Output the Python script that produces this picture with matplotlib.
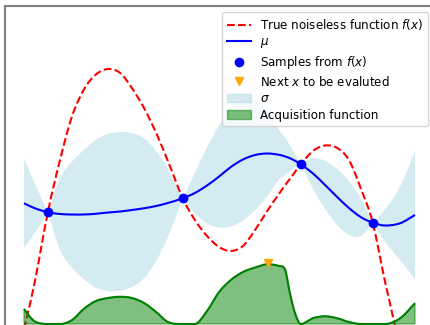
import matplotlib
matplotlib.use('Agg')
import matplotlib.pyplot as plt
import matplotlib.patches as mpatches
from matplotlib.lines import Line2D
from matplotlib.path import Path
import numpy as np

# shared x grid (includes the sample locations)
x = [0.0, 0.26, 0.61, 0.92, 1.23, 1.54, 1.84, 2.15, 2.46, 2.76, 3.07, 3.38, 3.68,
     4.06, 4.37, 4.68, 4.99, 5.29, 5.60, 5.91, 6.22, 6.52, 6.68, 6.80, 6.93, 7.08,
     7.39, 7.70, 8.01, 8.31, 8.62, 8.92, 9.23, 9.62, 10.0]

true_f = [-0.2, 1.56, 4.47, 6.56, 8.32, 9.4, 9.98, 10.2, 10.04, 9.44, 8.64, 7.64, 6.52,
          5.03, 4.16, 3.52, 3.08, 2.92, 3.12, 3.76, 4.52, 5.2, 5.56, 5.8, 6.08, 6.39,
          6.92, 7.14, 7.04, 6.56, 5.4, 4.05, 1.72, -0.95, -3.6]

mu = [4.83, 4.64, 4.47, 4.4, 4.38, 4.38, 4.41, 4.46, 4.5, 4.56, 4.63, 4.72, 4.84,
      5.03, 5.24, 5.54, 5.9, 6.28, 6.58, 6.76, 6.82, 6.77, 6.70, 6.63, 6.53, 6.39,
      6.02, 5.56, 5.08, 4.64, 4.27, 4.05, 3.94, 4.03, 4.36]

sigma = [1.8, 1.04, 0.0, 1.44, 2.12, 2.6, 2.96, 3.14, 3.18, 3.08, 2.8, 2.2, 1.36,
         0.0, 0.8, 1.52, 2.04, 2.38, 2.44, 2.2, 1.72, 1.0, 0.76, 0.52, 0.28, 0.0,
         0.61, 0.96, 1.12, 1.08, 0.74, 0.0, 0.64, 1.47, 2.57]

acq = [0.6, 0.12, 0.0, 0.0, 0.16, 0.62, 0.92, 1.04, 1.09, 1.04, 0.84, 0.48, 0.08,
       0.0, 0.0, 0.52, 1.28, 1.76, 2.08, 2.26, 2.39, 2.32, 2.16, 1.24, 0.44, 0.0,
       0.23, 0.31, 0.23, 0.08, 0.0, 0.0, 0.0, 0.23, 0.83]

x_samples = [0.61, 4.06, 7.08, 8.92]
y_samples = [4.47, 5.03, 6.39, 4.05]

x_next = 6.25
y_next = 2.44


def slopes(xs, ys, kinks=(), flat=()):
    # left/right tangents for a smooth (Hermite) curve through the points
    n = len(xs)
    d = np.diff(ys) / np.diff(xs)
    mL = np.empty(n)
    mR = np.empty(n)
    for i in range(n):
        if i == 0:
            mL[i] = mR[i] = d[0]
        elif i == n - 1:
            mL[i] = mR[i] = d[-1]
        else:
            mL[i] = mR[i] = (ys[i + 1] - ys[i - 1]) / (xs[i + 1] - xs[i - 1])
        if i in kinks:
            mL[i] = d[max(i - 1, 0)]
            mR[i] = d[min(i, n - 2)]
        if i in flat:
            mL[i] = mR[i] = 0.0
    return mL, mR


def bezier(xs, ys, mL, mR, reverse=False):
    segs = []
    for i in range(len(xs) - 1):
        h = xs[i + 1] - xs[i]
        c1 = (xs[i] + h / 3, ys[i] + mR[i] * h / 3)
        c2 = (xs[i + 1] - h / 3, ys[i + 1] - mL[i + 1] * h / 3)
        segs.append([(xs[i], ys[i]), c1, c2, (xs[i + 1], ys[i + 1])])
    if reverse:
        segs = [s[::-1] for s in segs[::-1]]
    out = [segs[0][0]]
    for s in segs:
        out += s[1:]
    return out, [Path.CURVE4] * len(out)


def smooth_line(ax, xs, ys, mL, mR, **kw):
    v, c = bezier(xs, ys, mL, mR)
    c[0] = Path.MOVETO
    ax.add_patch(mpatches.PathPatch(Path(v, c), fill=False, **kw))


x = np.array(x)
true_f = np.array(true_f)
mu = np.array(mu)
sigma = np.array(sigma)
acq = np.array(acq)

sample_idx = [int(np.argmin(np.abs(x - xs))) for xs in x_samples]
zero_idx = [i for i in range(len(acq)) if acq[i] == 0]

fig = plt.figure(figsize=(4.3, 3.25), dpi=100)
ax = fig.add_axes([5 / 430, 0, 429 / 430, 319 / 325])

# sigma band
muL, muR = slopes(x, mu)
sL, sR = slopes(x, sigma, kinks=sample_idx)
v_up, c_up = bezier(x, mu + sigma, muL + sL, muR + sR)
v_lo, c_lo = bezier(x, mu - sigma, muL - sL, muR - sR, reverse=True)
c_up[0] = Path.MOVETO
c_lo[0] = Path.LINETO
verts = v_up + v_lo + [v_up[0]]
codes = c_up + c_lo + [Path.CLOSEPOLY]
ax.add_patch(mpatches.PathPatch(Path(verts, codes), facecolor='lightblue',
                                alpha=0.5, linewidth=0))

fL, fR = slopes(x, true_f)
smooth_line(ax, x, true_f, fL, fR, edgecolor='r', linestyle='--', linewidth=1.5)
smooth_line(ax, x, mu, muL, muR, edgecolor='b', linewidth=1.5)
ax.plot(x_samples, y_samples, 'bo', markersize=6)

# acquisition function
aL, aR = slopes(x, acq, flat=zero_idx)
v_a, c_a = bezier(x, acq, aL, aR)
c_a[0] = Path.MOVETO
verts = v_a + [(x[-1], 0), (x[0], 0), v_a[0]]
codes = c_a + [Path.LINETO, Path.LINETO, Path.CLOSEPOLY]
ax.add_patch(mpatches.PathPatch(Path(verts, codes), facecolor='green',
                                edgecolor='green', alpha=0.5, linewidth=1))
smooth_line(ax, x, acq, aL, aR, edgecolor='green', linewidth=1.5)
ax.plot([x_next], [y_next], 'v', color='orange', markersize=6)

handles = [
    Line2D([], [], color='r', linestyle='--', linewidth=1.5),
    Line2D([], [], color='b', linewidth=1.5),
    Line2D([], [], color='b', marker='o', linestyle='none', markersize=6),
    Line2D([], [], color='orange', marker='v', linestyle='none', markersize=6),
    mpatches.Patch(color='lightblue', alpha=0.5),
    mpatches.Patch(color='green', alpha=0.5),
]
labels = ['True noiseless function $f(x)$', r'$\mu$', 'Samples from $f(x)$',
          'Next $x$ to be evaluted', r'$\sigma$', 'Acquisition function']
ax.legend(handles, labels, loc='upper right', fontsize=8.6, labelspacing=0.3)

ax.set_xlim(-0.486, 10.486)
ax.set_ylim(-0.04, 12.72)
ax.set_xticks([])
ax.set_yticks([])
for side in ['left', 'top']:
    ax.spines[side].set_color('#808080')
    ax.spines[side].set_linewidth(1.5)
ax.spines['right'].set_visible(False)
ax.spines['bottom'].set_visible(False)

fig.savefig('out.png', dpi=100)
